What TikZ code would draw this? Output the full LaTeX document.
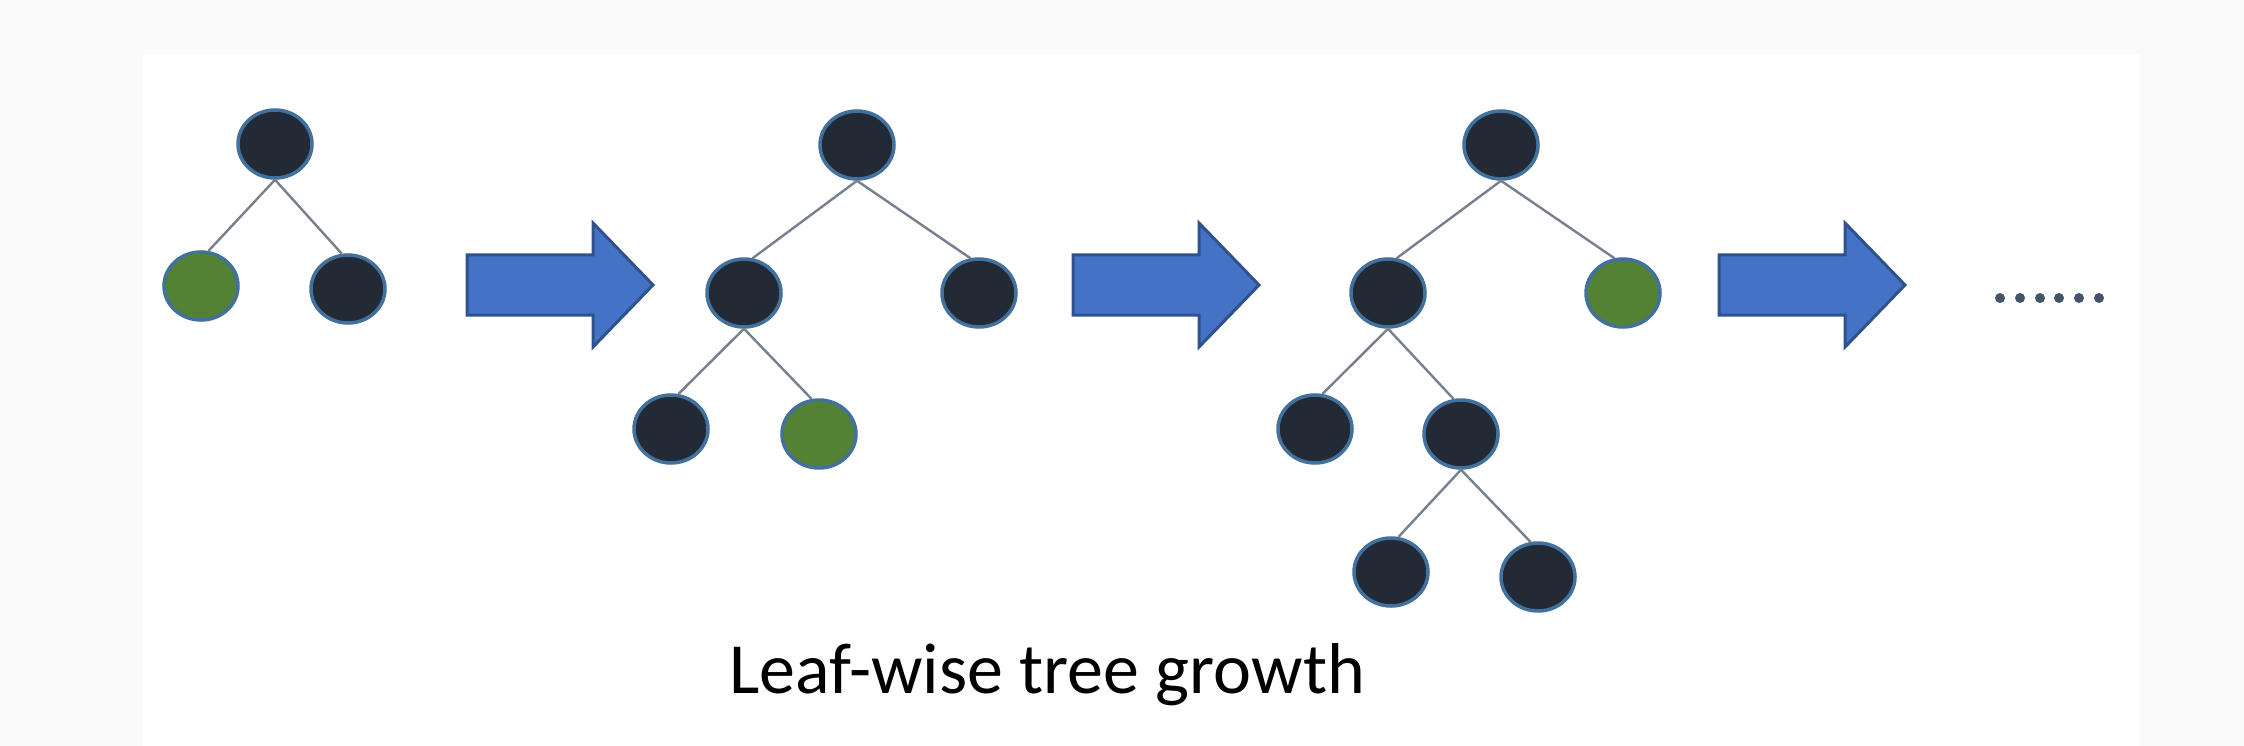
\documentclass[tikz,border=0pt]{standalone}
\usepackage{fontspec}
\setmainfont{Carlito}
\usetikzlibrary{shapes.geometric}
\definecolor{nodedark}{HTML}{222A35}
\definecolor{nodegreen}{HTML}{548235}
\definecolor{nodeborder}{HTML}{41719C}
\definecolor{arrfill}{HTML}{4472C4}
\definecolor{arrborder}{HTML}{2F528F}
\definecolor{edgecol}{HTML}{77808E}
\definecolor{dotcol}{HTML}{44546A}
\definecolor{outerbg}{HTML}{FAFAFA}
\tikzset{
  tnode/.style={ellipse, draw=nodeborder, line width=3.5pt, fill=nodedark, minimum width=74pt, minimum height=68pt, inner sep=0pt},
  gnode/.style={tnode, fill=nodegreen},
  edge/.style={draw=edgecol, line width=2.4pt},
  bigarrow/.style={fill=arrfill, draw=arrborder, line width=3pt, line join=miter},
}
\begin{document}
\begin{tikzpicture}[x=1pt,y=-1pt]
\fill[outerbg] (0,0) rectangle (2244,746);
\fill[white] (143,54) rectangle (2139,746);
\useasboundingbox (0,0) rectangle (2244,746);
% edge end points are drawn first (behind nodes)
% tree 1
\node[tnode] (a0) at (275,144) {};
\node[gnode] (a1) at (201,286) {};
\node[tnode] (a2) at (348,289) {};
% tree 2
\node[tnode] (b0) at (857,145) {};
\node[tnode] (b1) at (744,293) {};
\node[tnode] (b2) at (979,293) {};
\node[tnode] (b3) at (671,429) {};
\node[gnode] (b4) at (819,434) {};
% tree 3
\node[tnode] (c0) at (1501,145) {};
\node[tnode] (c1) at (1388,293) {};
\node[gnode] (c2) at (1623,293) {};
\node[tnode] (c3) at (1315,429) {};
\node[tnode] (c4) at (1461,434) {};
\node[tnode] (c5) at (1391,572) {};
\node[tnode] (c6) at (1538,577) {};
% edges
\path[edge] (a0.south) -- (a1.78);
\path[edge] (a0.south) -- (a2.100);
\path[edge] (b0.south) -- (b1.76);
\path[edge] (b0.south) -- (b2.104);
\path[edge] (b1.south) -- (b3.78);
\path[edge] (b1.south) -- (b4.102);
\path[edge] (c0.south) -- (c1.76);
\path[edge] (c0.south) -- (c2.104);
\path[edge] (c1.south) -- (c3.78);
\path[edge] (c1.south) -- (c4.102);
\path[edge] (c4.south) -- (c5.78);
\path[edge] (c4.south) -- (c6.102);
% arrows
\foreach \x/\n in {467/arA,1073/arB,1719/arC}{
  \coordinate (\n) at (\x,285);
  \draw[bigarrow] (\n) ++(0,-30) -- ++(126,0) -- ++(0,-32) -- ++(60,62) -- ++(-60,62) -- ++(0,-32) -- ++(-126,0) -- cycle;
}
% dots
\foreach \x in {2000,2020,2040,2059,2079,2099}{
  \fill[dotcol] (\x,298) circle (5pt);
}
\node[anchor=base, font=\fontsize{72}{80}\selectfont, inner sep=0pt] (title) at (1047,693) {Leaf-wise tree growth};
\end{tikzpicture}
\end{document}
